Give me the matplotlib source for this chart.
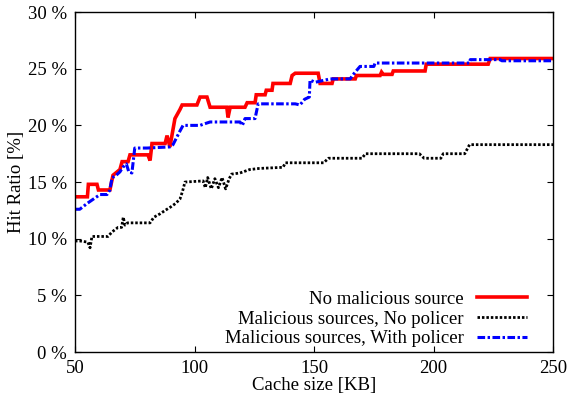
import numpy as np
import matplotlib
matplotlib.use('Agg')
import matplotlib.pyplot as plt

plt.rcParams['font.family'] = ['Liberation Serif', 'DejaVu Serif']

# No malicious source
red_x = [50, 55.2, 55.6, 59.2, 59.8, 64.6, 65.9, 68.8, 69.7, 72.2, 73.0, 80.5, 81.4, 82.2,
         87.7, 88.5, 89.7, 91.8, 93.9, 94.8, 101.0, 102.3, 105.2, 106.5, 113.5, 114.0,
         114.9, 121.1, 122.0, 125.3, 125.8, 129.5, 130.0, 132.4, 132.8, 140.0, 140.8,
         142.1, 151.7, 152.5, 157.5, 158.0, 167.2, 167.7, 177.6, 178.2, 178.9, 182.6,
         183.1, 196.4, 196.9, 222.8, 223.6, 250]
red_y = [13.7, 13.7, 14.8, 14.8, 14.3, 14.3, 15.6, 16.1, 16.8, 16.8, 17.4, 17.4, 16.9, 18.4,
         18.4, 19.1, 18.1, 20.6, 21.4, 21.8, 21.8, 22.5, 22.5, 21.6, 21.6, 20.7,
         21.6, 21.6, 22.0, 22.0, 22.7, 22.7, 23.1, 23.1, 23.7, 23.7, 24.4,
         24.6, 24.6, 23.7, 23.7, 24.1, 24.1, 24.4, 24.4, 24.7, 24.5, 24.5,
         24.8, 24.8, 25.4, 25.4, 25.9, 25.9]

# Malicious sources, No policer
blk_x = [50, 52.1, 55.4, 56.3, 57.1, 63.8, 65.5, 68.0, 69.5, 70.2, 70.9, 72.0, 81.4, 83.0,
         85.6, 87.7, 90.0, 92.0, 93.9, 95.0, 96.0, 103.6, 104.5, 105.5, 107.0, 108.5,
         110.0, 111.5, 113.0, 114.5, 115.5, 119.0, 123.0, 127.0, 137.0, 138.0, 154.0,
         156.0, 170.0, 171.5, 194.0, 196.0, 203.0, 204.0, 213.0, 215.0, 250]
blk_y = [9.8, 9.8, 9.7, 9.2, 10.2, 10.2, 10.6, 11.0, 11.0, 11.9, 11.2, 11.4, 11.4, 11.9,
         12.2, 12.5, 12.8, 13.1, 13.5, 14.2, 15.0, 15.1, 14.5, 15.4, 14.4, 15.3,
         14.5, 15.4, 14.4, 15.3, 15.7, 15.8, 16.1, 16.2, 16.3, 16.7, 16.7,
         17.1, 17.1, 17.5, 17.5, 17.1, 17.1, 17.5, 17.5, 18.3, 18.3]

# Malicious sources, With policer
blu_x = [50, 52.0, 55.0, 58.4, 60.5, 63.4, 64.6, 65.5, 66.7, 68.8, 70.0, 71.5, 72.5, 73.8,
         75.0, 80.1, 89.7, 91.0, 93.9, 95.2, 102.3, 103.6, 106.5, 119.0, 120.0, 121.1,
         125.3, 126.6, 142.1, 144.1, 146.0, 148.0, 148.3, 150.4, 156.7, 165.1, 166.0,
         169.2, 175.0, 175.5, 215.0, 215.3, 227.8, 228.5, 250]
blu_y = [12.6, 12.6, 13.1, 13.6, 13.9, 13.9, 14.3, 15.4, 15.5, 15.9, 16.3, 16.6, 15.9, 15.8,
         18.0, 18.0, 18.1, 18.3, 19.5, 20.0, 20.0, 20.1, 20.3, 20.3, 20.0, 20.6,
         20.6, 21.9, 21.9, 21.8, 22.3, 22.5, 24.0, 23.8, 24.1, 24.1, 24.4,
         25.2, 25.2, 25.5, 25.5, 25.8, 25.8, 25.7, 25.7]

x_ticks = [50, 100, 150, 200, 250]
y_ticks = [0, 5, 10, 15, 20, 25, 30]

fig = plt.figure(figsize=(5.68, 4.01), dpi=100)
ax = fig.add_axes([0.132, 0.122, 0.842, 0.848])

ax.plot(red_x, red_y, color='#ff0000', lw=2.6, solid_joinstyle='miter',
        label='No malicious source')
ax.plot(blk_x, blk_y, color='black', lw=2.0, linestyle=(0, (0.9, 0.7)),
        label='Malicious sources, No policer')
ax.plot(blu_x, blu_y, color='#0000ff', lw=2.2, linestyle=(0, (2.5, 0.8, 0.8, 0.8)),
        label='Malicious sources, With policer')

ax.set_xlim(50, 250)
ax.set_ylim(0, 30)
ax.set_xticks(x_ticks)
ax.set_yticks(y_ticks)
ax.set_yticklabels([f'{v} %' for v in y_ticks])
ax.tick_params(direction='in', top=True, right=True, length=4, labelsize=13.5, pad=6)
ax.set_xlabel('Cache size [KB]', fontsize=13.5, labelpad=0)
ax.set_ylabel('Hit Ratio [%]', fontsize=13.5, labelpad=2)
for s in ax.spines.values():
    s.set_linewidth(1.0)

# text on the left, right-aligned, handles on the right
leg = ax.legend(loc='lower right', bbox_to_anchor=(0.973, -0.024), frameon=False,
                markerfirst=False, fontsize=13.5, handlelength=2.7, handletextpad=0.7,
                labelspacing=0.13, borderaxespad=0.3)

fig.savefig('out.png', dpi=100)
